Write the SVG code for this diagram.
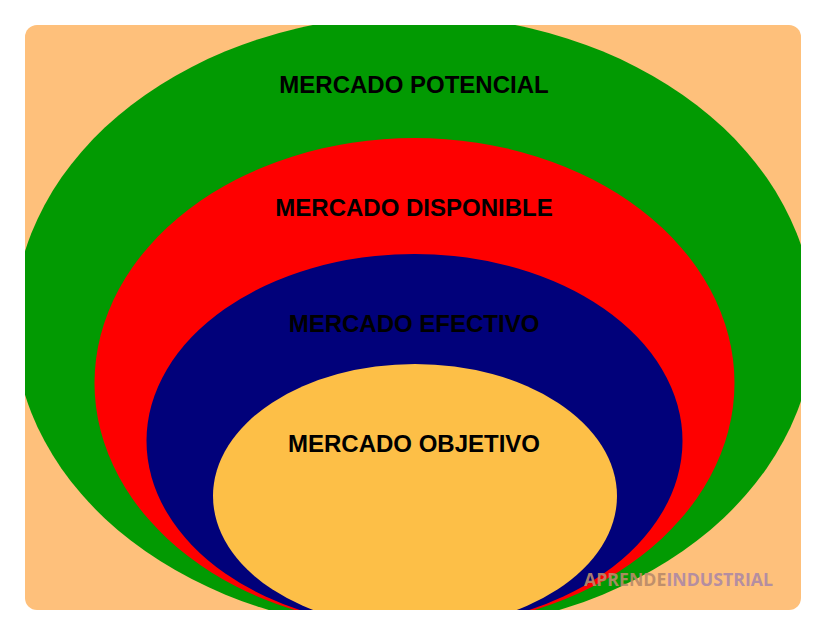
<svg xmlns="http://www.w3.org/2000/svg" width="826" height="635" viewBox="0 0 826 635">
  <defs>
    <clipPath id="frame">
      <rect x="25" y="25" width="776" height="585" rx="12" ry="12"/>
    </clipPath>
    <style>
      .lbl { font-family: "Liberation Sans", Arial, sans-serif; font-weight: bold; font-size: 24px; fill: #000; text-anchor: middle; }
      .wm { font-family: "Open Sans", "Liberation Sans", sans-serif; font-weight: bold; font-size: 17px; }
    </style>
  </defs>
  <rect width="826" height="635" fill="#ffffff"/>
  <rect x="25" y="25" width="776" height="585" rx="12" ry="12" fill="#FEC07B"/>
  <g clip-path="url(#frame)">
    <g id="potencial">
      <ellipse cx="414" cy="323" rx="400" ry="308" fill="#029A02"/>
      <text class="lbl" x="414" y="93">MERCADO POTENCIAL</text>
    </g>
    <g id="disponible">
      <ellipse cx="414.5" cy="383" rx="320" ry="245" fill="#FE0000"/>
      <text class="lbl" x="414" y="216">MERCADO DISPONIBLE</text>
    </g>
    <g id="efectivo">
      <ellipse cx="414.5" cy="441" rx="268" ry="187" fill="#01017A"/>
      <text class="lbl" x="414" y="332">MERCADO EFECTIVO</text>
    </g>
    <g id="objetivo">
      <ellipse cx="415" cy="496" rx="202" ry="132" fill="#FDBF47"/>
      <text class="lbl" x="414" y="452">MERCADO OBJETIVO</text>
    </g>
    <g id="watermark" opacity="0.9">
      <text class="wm" x="584" y="586" textLength="189" lengthAdjust="spacingAndGlyphs"><tspan fill="#B98A6A">APRENDE</tspan><tspan fill="#AD89A6">INDUSTRIAL</tspan></text>
    </g>
  </g>
  <g id="connectors"/>
</svg>
